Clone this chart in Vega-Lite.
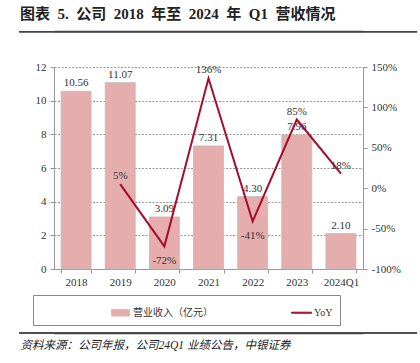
{
  "$schema": "https://vega.github.io/schema/vega-lite/v6.json",
  "width": 309,
  "height": 202,
  "autosize": {"type": "none"},
  "padding": {"left": 54, "top": 67, "right": 57, "bottom": 94},
  "background": "white",
  "config": {
    "view": {"stroke": null},
    "font": "Liberation Serif, Noto Sans CJK SC",
    "axis": {"labelFont": "Liberation Serif", "labelFontSize": 11, "labelColor": "#333", "domainColor": "#999", "tickColor": "#999", "tickSize": 4}
  },
  "title": {
    "text": "图表\u00a0\u00a05.\u00a0\u00a0公司\u00a0\u00a02018\u00a0\u00a0年至\u00a0\u00a02024\u00a0\u00a0年\u00a0\u00a0Q1\u00a0\u00a0营收情况",
    "anchor": "start",
    "frame": "group",
    "orient": "top",
    "dx": -34,
    "offset": 9,
    "font": "Liberation Serif, Noto Sans CJK SC",
    "fontSize": 15,
    "fontWeight": "bold",
    "color": "#222"
  },
  "datasets": {
    "main": [
      {"year": "2018", "rev": 10.56, "yoy": null},
      {"year": "2019", "rev": 11.07, "yoy": 0.05},
      {"year": "2020", "rev": 3.09, "yoy": -0.72},
      {"year": "2021", "rev": 7.31, "yoy": 1.36},
      {"year": "2022", "rev": 4.30, "yoy": -0.41},
      {"year": "2023", "rev": 7.96, "yoy": 0.85},
      {"year": "2024Q1", "rev": 2.10, "yoy": 0.18}
    ],
    "separators": [
      {"from": -0.113, "to": 1.175, "top": 14.14, "bottom": 14.05},
      {"from": -0.113, "to": 1.175, "top": -3.76, "bottom": -3.85}
    ]
  },
  "layer": [
    {
      "data": {"name": "main"},
      "encoding": {
        "x": {
          "field": "year", "type": "nominal", "sort": null,
          "scale": {"paddingInner": 0.32, "paddingOuter": 0.16},
          "axis": {
            "labelAngle": 0, "tickBand": "extent", "labelPadding": 3,
            "title": "资料来源：公司年报，公司24Q1 业绩公告，中银证券",
            "titleX": -34, "titleY": 76, "titleAlign": "left", "titleAnchor": null, "titleBaseline": "middle",
            "titleFont": "Liberation Serif, Noto Sans CJK SC", "titleFontSize": 11.5, "titleFontStyle": "italic", "titleFontWeight": "normal", "titleColor": "#222"
          }
        },
        "y": {
          "field": "rev", "type": "quantitative",
          "scale": {"domain": [0, 12]},
          "axis": {"values": [0, 2, 4, 6, 8, 10, 12], "title": null, "grid": true, "gridDash": [2, 1.5], "gridColor": "#999", "gridWidth": 1, "labelPadding": 4}
        }
      },
      "layer": [
        {
          "mark": {"type": "bar", "stroke": "#bbbbbb", "strokeWidth": 0.8},
          "encoding": {
            "color": {
              "datum": "营业收入（亿元）",
              "type": "nominal",
              "scale": {"domain": ["营业收入（亿元）", "YoY"], "range": ["#E6ADAD", "#A50D2B"]},
              "legend": {
                "title": null,
                "orient": "none",
                "legendX": -21,
                "legendY": 228,
                "direction": "horizontal",
                "columns": 2,
                "padding": 7,
                "strokeColor": "#888",
                "symbolOffset": 70,
                "columnPadding": 8,
                "labelFont": "Liberation Serif, Noto Sans CJK SC",
                "labelFontSize": 10,
                "labelColor": "#333",
                "labelOffset": 2,
                "symbolSize": 400,
                "labelExpr": "datum.label == 'YoY' ? 'YoY                        ' : datum.label",
                "encoding": {
                  "symbols": {
                    "shape": {"condition": {"test": "datum.value === 'YoY'", "value": "M-1,-0.06H1V0.06H-1Z"}, "value": "M-0.9,-0.33H0.9V0.33H-0.9Z"},
                    "fill": {"condition": {"test": "datum.value === 'YoY'", "value": "#A50D2B"}, "value": "#E6ADAD"},
                    "stroke": {"condition": {"test": "datum.value === 'YoY'", "value": "#A50D2B"}, "value": "#bbbbbb"},
                    "strokeWidth": {"value": 0.8},
                    "opacity": {"value": 1},
                    "fillOpacity": {"value": 1}
                  }
                }
              }
            }
          }
        },
        {
          "mark": {"type": "text", "baseline": "bottom", "dy": -3, "fontSize": 11, "color": "#333", "font": "Liberation Serif"},
          "encoding": {
            "text": {"field": "rev", "type": "quantitative", "format": ".2f"}
          }
        }
      ]
    },
    {
      "data": {"name": "main"},
      "transform": [
        {"filter": "datum.yoy != null"},
        {"calculate": "replace(format(datum.yoy, '.0%'), '\u2212', '-')", "as": "yoyLabel"}
      ],
      "encoding": {
        "x": {
          "field": "year", "type": "nominal", "sort": null,
          "scale": {"domain": ["2018", "2019", "2020", "2021", "2022", "2023", "2024Q1"], "paddingInner": 0.32, "paddingOuter": 0.16},
          "axis": null
        },
        "y": {
          "field": "yoy", "type": "quantitative",
          "scale": {"domain": [-1, 1.5]},
          "axis": {"orient": "right", "values": [-1, -0.5, 0, 0.5, 1, 1.5], "format": ".0%", "labelExpr": "replace(datum.label, '\u2212', '-')", "title": null, "grid": false, "labelPadding": 4}
        }
      },
      "layer": [
        {
          "mark": {"type": "line", "strokeWidth": 2},
          "encoding": {
            "color": {"datum": "YoY", "type": "nominal"}
          }
        },
        {
          "transform": [{"filter": "datum.yoy >= 0"}],
          "mark": {"type": "text", "baseline": "bottom", "dy": -3, "fontSize": 11, "color": "#333", "font": "Liberation Serif"},
          "encoding": {"text": {"field": "yoyLabel", "type": "nominal"}}
        },
        {
          "transform": [{"filter": "datum.yoy < 0"}],
          "mark": {"type": "text", "baseline": "top", "dy": 9, "fontSize": 11, "color": "#333", "font": "Liberation Serif"},
          "encoding": {"text": {"field": "yoyLabel", "type": "nominal"}}
        }
      ]
    },
    {
      "data": {"name": "separators"},
      "mark": {"type": "rect", "fill": "#444", "clip": false},
      "encoding": {
        "x": {"field": "from", "type": "quantitative", "scale": {"domain": [0, 1], "nice": false, "zero": false},
              "axis": {"orient": "top", "offset": 36, "domainColor": "#444", "domainWidth": 1.5, "labels": false, "ticks": false, "grid": false, "title": null}},
        "x2": {"field": "to"},
        "y": {"field": "top", "type": "quantitative", "scale": {"domain": [0, 12], "nice": false, "zero": false}, "axis": null},
        "y2": {"field": "bottom"}
      }
    },
    {
      "data": {"name": "separators"},
      "mark": {"type": "rect", "fill": "#444", "clip": false},
      "encoding": {
        "x": {"field": "from", "type": "quantitative", "scale": {"domain": [0, 1], "nice": false, "zero": false},
              "axis": {"orient": "bottom", "offset": 64, "domainColor": "#444", "domainWidth": 1.5, "labels": false, "ticks": false, "grid": false, "title": null}},
        "x2": {"field": "to"},
        "y": {"field": "top", "type": "quantitative", "scale": {"domain": [0, 12], "nice": false, "zero": false}, "axis": null},
        "y2": {"field": "bottom"}
      }
    }
  ],
  "resolve": {"scale": {"y": "independent", "x": "independent"}}
}
